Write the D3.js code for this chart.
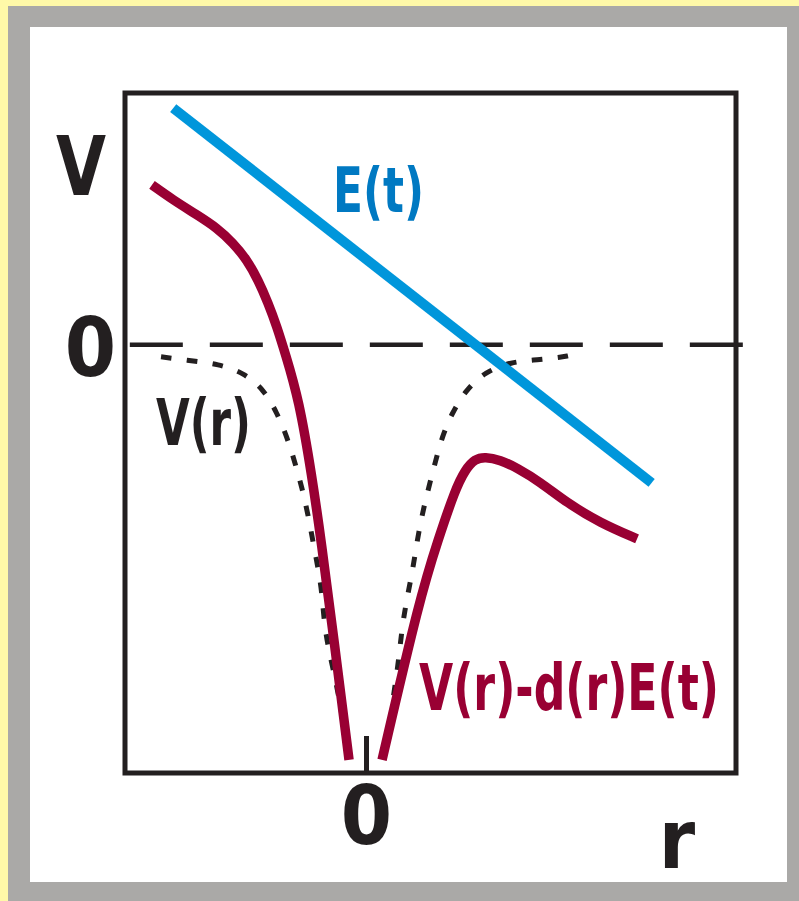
<!DOCTYPE html>
<html>
<head>
<meta charset="utf-8">
<script src="https://cdn.jsdelivr.net/npm/d3@7"></script>
<style>
  body { margin: 0; background: #fff9a8; }
  svg text { font-family: 'DejaVu Sans Condensed', 'DejaVu Sans', sans-serif; font-weight: bold; font-stretch: condensed; }
</style>
</head>
<body>
<svg id="chart" width="799" height="901"></svg>
<script>
// Plot window (r horizontal, V vertical)
const rDomain = [-2, 3.07];
const vDomain = [-8.5, 5];

// Laser field E(t): straight line
const fieldR = [-1.60, 2.37];
const fieldV = [4.70, -2.74];

// Zero-energy reference line
const zeroR = [-1.96, 3.17];

// Bare potential V(r): left and right branches of the well
const wellLeftR = [-1.701, -1.444, -1.228, -1.012, -0.846, -0.739, -0.656, -0.589, -0.531, -0.481, -0.440, -0.398, -0.365, -0.349, -0.315, -0.266, -0.224, -0.183, -0.158];
const wellLeftV = [-0.238, -0.318, -0.377, -0.556, -0.893, -1.350, -1.826, -2.343, -2.839, -3.375, -3.911, -4.427, -4.924, -5.479, -5.996, -6.512, -7.008, -7.584, -7.941];
const wellRightR = [1.676, 1.635, 1.419, 1.203, 0.988, 0.830, 0.714, 0.631, 0.573, 0.515, 0.465, 0.423, 0.390, 0.349, 0.307, 0.282, 0.257, 0.224, 0.199, 0.158];
const wellRightV = [-0.218, -0.238, -0.298, -0.338, -0.536, -0.893, -1.350, -1.826, -2.343, -2.879, -3.375, -3.911, -4.427, -4.924, -5.479, -5.996, -6.512, -7.008, -7.584, -7.941];

// Field-dressed potential V(r) - d(r)E(t)
const dressedLeftR = [-1.776, -1.602, -1.402, -1.237, -1.104, -0.988, -0.896, -0.813, -0.739, -0.672, -0.556, -0.448, -0.373, -0.266, -0.141];
const dressedLeftV = [3.176, 2.879, 2.581, 2.323, 2.025, 1.688, 1.290, 0.834, 0.357, -0.159, -1.092, -2.621, -3.871, -5.857, -8.239];
const dressedRightR = [0.133, 0.448, 0.598, 0.739, 0.822, 0.905, 0.988, 1.112, 1.253, 1.444, 1.668, 1.942, 2.249];
const dressedRightV = [-8.239, -5.003, -3.871, -2.879, -2.482, -2.263, -2.224, -2.283, -2.442, -2.720, -3.137, -3.534, -3.851];

const rTicks = [0];
const vTicks = [0];
const axisNames = { v: "V", r: "r" };
const curveLabels = { field: "E(t)", well: "V(r)", dressed: "V(r)-d(r)E(t)" };

const colors = {
  ink: "#231f20",
  crimson: "#990033",
  fieldLine: "#0096db",
  fieldText: "#0079c2",
  frame: "#aaa9a7",
  page: "#fff9a8"
};

const svg = d3.select("#chart");

// Page background, grey frame and white panel
svg.append("rect").attr("width", 799).attr("height", 901).attr("fill", colors.page);
svg.append("rect").attr("x", 8).attr("y", 6).attr("width", 791).attr("height", 895).attr("fill", colors.frame);
svg.append("rect").attr("x", 30).attr("y", 27).attr("width", 757).attr("height", 855).attr("fill", "#ffffff");

const x = d3.scaleLinear().domain(rDomain).range([125, 736]);
const y = d3.scaleLinear().domain(vDomain).range([773, 93]);

const zip = (rs, vs) => rs.map((r, i) => [r, vs[i]]);
const smoothed = d3.line().x(d => x(d[0])).y(d => y(d[1])).curve(d3.curveBasis);
const straight = d3.line().x(d => x(d[0])).y(d => y(d[1]));

// Plot box
svg.append("rect")
  .attr("x", x(rDomain[0])).attr("y", y(vDomain[1]))
  .attr("width", x(rDomain[1]) - x(rDomain[0]))
  .attr("height", y(vDomain[0]) - y(vDomain[1]))
  .attr("fill", "none").attr("stroke", colors.ink).attr("stroke-width", 5);

// Zero line
svg.append("path")
  .attr("d", straight(zeroR.map(r => [r, 0])))
  .attr("fill", "none").attr("stroke", colors.ink)
  .attr("stroke-width", 4.5).attr("stroke-dasharray", "53,27");

// Bottom axis: single tick at r = 0
const xAxis = svg.append("g")
  .attr("transform", `translate(0,${y(vDomain[0])})`)
  .call(d3.axisBottom(x).tickValues(rTicks).tickSizeInner(-37).tickSizeOuter(0).tickFormat(d3.format("d")));
xAxis.select(".domain").remove();
xAxis.selectAll(".tick line").attr("stroke", colors.ink).attr("stroke-width", 5);
xAxis.selectAll(".tick text")
  .attr("y", 71).attr("dy", 0)
  .attr("fill", colors.ink).attr("font-size", 82);

// Left axis: single label at V = 0
const yAxis = svg.append("g")
  .attr("transform", `translate(${x(rDomain[0])},0)`)
  .call(d3.axisLeft(y).tickValues(vTicks).tickSize(0).tickPadding(9).tickFormat(d3.format("d")));
yAxis.select(".domain").remove();
yAxis.selectAll(".tick text")
  .attr("dy", 31)
  .attr("fill", colors.ink).attr("font-size", 82);
svg.selectAll(".tick text").attr("font-family", null);

// Bare potential, dotted
[zip(wellLeftR, wellLeftV), zip(wellRightR, wellRightV)].forEach(pts => {
  svg.append("path")
    .attr("d", smoothed(pts))
    .attr("fill", "none").attr("stroke", colors.ink)
    .attr("stroke-width", 5).attr("stroke-dasharray", "10.5,15.5");
});

// Dressed potential
[zip(dressedLeftR, dressedLeftV), zip(dressedRightR, dressedRightV)].forEach(pts => {
  svg.append("path")
    .attr("d", smoothed(pts))
    .attr("fill", "none").attr("stroke", colors.crimson)
    .attr("stroke-width", 9.5);
});

// Field line
svg.append("path")
  .attr("d", straight(zip(fieldR, fieldV)))
  .attr("fill", "none").attr("stroke", colors.fieldLine)
  .attr("stroke-width", 10);

// Axis names
svg.append("text").attr("x", 56).attr("y", 195)
  .attr("font-size", 82).attr("fill", colors.ink)
  .attr("textLength", 50).attr("lengthAdjust", "spacingAndGlyphs")
  .text(axisNames.v);
svg.append("text").attr("x", 677).attr("y", 868).attr("text-anchor", "middle")
  .attr("font-size", 82).attr("fill", colors.ink)
  .text(axisNames.r);

// Curve labels
svg.append("text").attr("x", 333).attr("y", 212)
  .attr("font-size", 62).attr("fill", colors.fieldText)
  .attr("textLength", 91).attr("lengthAdjust", "spacingAndGlyphs")
  .text(curveLabels.field);
svg.append("text").attr("x", 156).attr("y", 445)
  .attr("font-size", 64).attr("fill", colors.ink)
  .attr("textLength", 95).attr("lengthAdjust", "spacingAndGlyphs")
  .text(curveLabels.well);
svg.append("text").attr("x", 419).attr("y", 710)
  .attr("font-size", 64).attr("fill", colors.crimson)
  .attr("textLength", 300).attr("lengthAdjust", "spacingAndGlyphs")
  .text(curveLabels.dressed);
</script>
</body>
</html>
